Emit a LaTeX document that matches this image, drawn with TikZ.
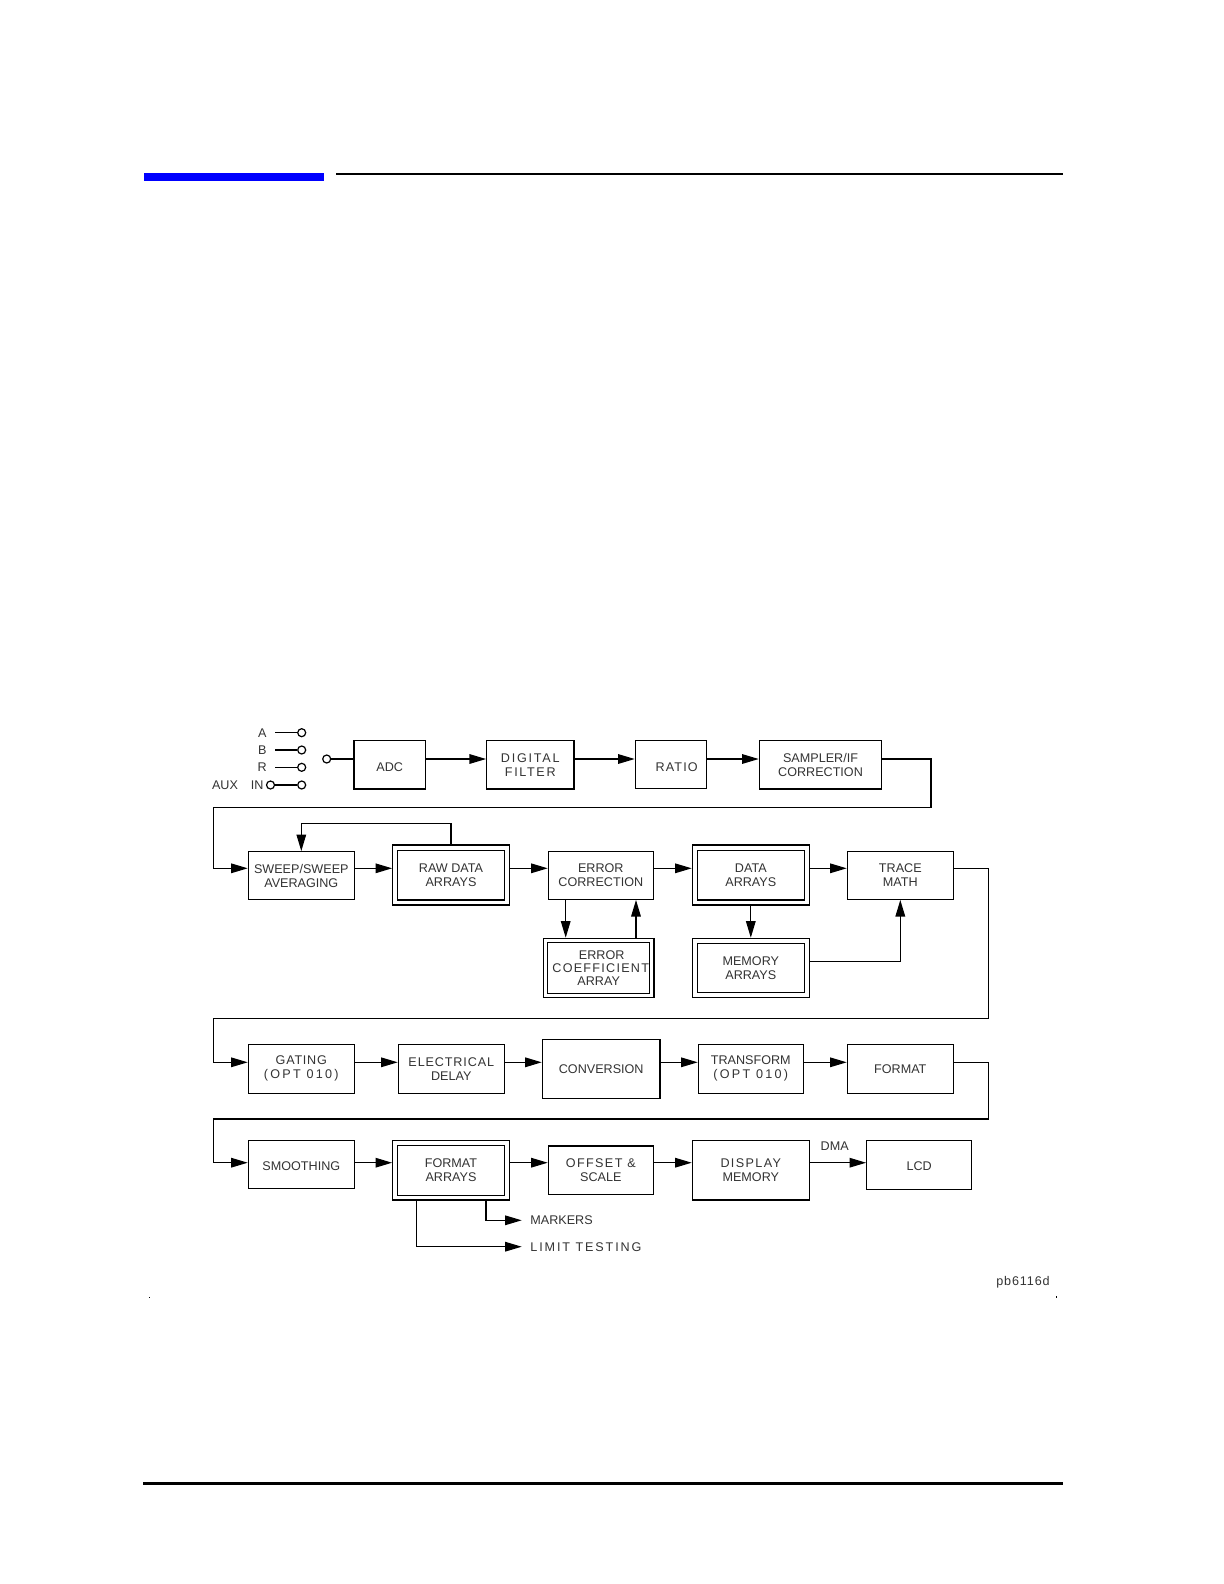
\documentclass[tikz,border=0pt]{standalone}
\usepackage{fontspec}
\setmainfont{Liberation Sans}
\usetikzlibrary{arrows.meta}
\newcommand\lsp[2]{{\addfontfeature{LetterSpace=#1}#2}}
\newcommand\lowr[2]{\raisebox{-#1}[\height][\depth]{#2}}
\newcommand\inbox[2]{\draw[ln] ([shift={(#2,#2)}]#1.north west) rectangle ([shift={(-#2,-#2)}]#1.south east);}
\begin{document}
\begin{tikzpicture}[x=0.5pt,y=-0.5pt,
 ln/.style={line width=0.6pt},
 blk/.style={draw,line width=0.6pt,inner sep=0pt,align=center,text=black!80,font=\fontsize{6.3}{7}\selectfont},
 sz/.style 2 args={minimum width=#1*0.5pt,minimum height=#2*0.5pt},
 lbl/.style={inner sep=0pt,text=black!80,font=\fontsize{6.3}{7}\selectfont},
 arr/.style={line width=0.6pt,-{Triangle[length=8.3pt,width=4.8pt]}},
 pin/.style={circle,draw,line width=0.6pt,minimum size=4pt,inner sep=0pt}]
\useasboundingbox (0,0) rectangle (1224,1584);
\fill[white] (0,0) rectangle (1224,1584);
% header and footer rules
\fill[blue] (144,173) rectangle (324,180.7);
\draw[line width=1.15pt] (336,174.3) -- (1062.6,174.3);
\draw[line width=1.35pt] (143,1483.7) -- (1063,1483.7);
\fill (148.7,1296.7) rectangle ++(1.3,1.3);
\fill (1056,1296.4) rectangle ++(1.3,1.3);
% row coordinates
\coordinate (r1) at (0,759);
\coordinate (r2) at (0,868.3);
\coordinate (r3) at (0,1062.3);
\coordinate (r4) at (0,1162.7);
% inputs
\node[lbl,anchor=east,inner xsep=4pt] (ta) at (275,732.7) {A};
\node[lbl,anchor=east,inner xsep=4pt] (tb) at (275,750) {B};
\node[lbl,anchor=east,inner xsep=4pt] (tr) at (275,767.3) {R};
\node[lbl,anchor=east] (taux) at (264,785) {AUX\hspace{6.5pt}IN};
\node[pin] (ca) at (301.7,732.7) {};
\node[pin] (cb) at (301.7,750) {};
\node[pin] (cr) at (301.7,767.3) {};
\node[pin] (cx) at (301.7,785) {};
\node[pin] (caux) at (270.5,785) {};
\node[pin] (cin) at (326.7,759) {};
\draw[ln] (ta) -- (ca);
\draw[ln] (tb) -- (cb);
\draw[ln] (tr) -- (cr);
\draw[ln] (caux) -- (cx);
% row 1
\node[blk,sz={71.3}{48.6}] (adc) at (389.7,764.75) {\lowr{1.3pt}{ADC}};
\node[blk,sz={87.3}{48.6}] (df) at (530.3,764.75) {\lsp{14}{DIGITAL}\\\lsp{13}{FILTER}};
\node[blk,sz={71.4}{48}] (ratio) at (671,764.5) {\lowr{1.4pt}{\hspace*{5.7pt}\lsp{9}{RATIO}}};
\node[blk,sz={122.4}{48.6}] (sampler) at (820.5,764.75) {SAMPLER/IF\\CORRECTION};
\draw[ln] (cin) -- (adc.west |- r1);
\draw[arr] (adc.east |- r1) -- (df.west |- r1);
\draw[arr] (df.east |- r1) -- (ratio.west |- r1);
\draw[arr] (ratio.east |- r1) -- (sampler.west |- r1);
% row 2
\node[blk,sz={106}{47.6}] (sweep) at (301.3,875.5) {SWEEP/SWEEP\\AVERAGING};
\node[blk,sz={116.6}{60}] (raw) at (451,875) {RAW DATA\\ARRAYS};
\inbox{raw}{5.7}
\node[blk,sz={105}{47.6}] (ec) at (600.8,875.5) {ERROR\\CORRECTION};
\node[blk,sz={117}{60}] (data) at (750.8,875) {DATA\\ARRAYS};
\inbox{data}{5.7}
\node[blk,sz={106}{47.6}] (trace) at (900.3,875.5) {TRACE\\MATH};
\node[blk,sz={110.7}{59.4},font=\fontsize{6.3}{6.65}\selectfont] (coeff) at (598.7,968) {\hspace*{3pt}ERROR\\\hspace*{2pt}\lsp{10}{COEFFICIENT}\\ARRAY};
\inbox{coeff}{5}
\node[blk,sz={117}{59}] (mem) at (750.8,967.8) {MEMORY\\ARRAYS};
\inbox{mem}{5.5}
\draw[arr] (sampler.east |- r1) -- (931,759) -- (931,807.3) -- (213.3,807.3) -- (213.3,868.3) -- (sweep.west |- r2);
\draw[arr] (raw.north) -- ++(0,-20.7) -| (sweep.north);
\draw[arr] (sweep.east |- r2) -- (raw.west |- r2);
\draw[arr] (raw.east |- r2) -- (ec.west |- r2);
\draw[arr] (ec.east |- r2) -- (data.west |- r2);
\draw[arr] (data.east |- r2) -- (trace.west |- r2);
\coordinate (xd) at (565.7,0);
\coordinate (xu) at (636,0);
\coordinate (ym) at (0,961.7);
\draw[arr] (ec.south -| xd) -- (coeff.north -| xd);
\draw[arr] (coeff.north -| xu) -- (ec.south -| xu);
\draw[arr] (data.south) -- (mem.north);
\draw[arr] (mem.east |- ym) -| (trace.south);
% row 3
\node[blk,sz={106}{49}] (gating) at (301.3,1068.8) {\lsp{6}{GATING}\\\lsp{18}{(OPT 010)}};
\node[blk,sz={106}{49}] (elec) at (451.3,1068.8) {\lsp{7}{ELECTRICAL}\\DELAY};
\node[blk,sz={117.7}{59}] (conv) at (601.2,1068.8) {CONVERSION};
\node[blk,sz={105}{49}] (transf) at (750.8,1068.8) {TRANSFORM\\\lsp{18}{(OPT 010)}};
\node[blk,sz={106}{49}] (format) at (900.3,1068.8) {FORMAT};
\draw[arr] (trace.east |- r2) -- (988.3,868.3) -- (988.3,1018.3) -- (213.3,1018.3) -- (213.3,1062.3) -- (gating.west |- r3);
\draw[arr] (gating.east |- r3) -- (elec.west |- r3);
\draw[arr] (elec.east |- r3) -- (conv.west |- r3);
\draw[arr] (conv.east |- r3) -- (transf.west |- r3);
\draw[arr] (transf.east |- r3) -- (format.west |- r3);
% row 4
\node[blk,sz={106}{47.6}] (smooth) at (301.3,1164.5) {\lowr{0.6pt}{SMOOTHING}};
\node[blk,sz={116.6}{59.3}] (fa) at (451,1170.4) {FORMAT\\ARRAYS};
\inbox{fa}{5.5}
\node[blk,sz={105}{48.3}] (offset) at (600.8,1170.2) {\lsp{11}{OFFSET \&}\\SCALE};
\node[blk,sz={117}{59.3}] (dm) at (750.8,1170.4) {\lsp{11}{DISPLAY}\\MEMORY};
\node[blk,sz={105}{48.6}] (lcd) at (919.2,1165) {\lowr{0.5pt}{LCD}};
\node[lbl] (dma) at (834.7,1146) {DMA};
\draw[arr] (format.east |- r3) -- (988.3,1062.3) -- (988.3,1119) -- (213.3,1119) -- (213.3,1162.7) -- (smooth.west |- r4);
\draw[arr] (smooth.east |- r4) -- (fa.west |- r4);
\draw[arr] (fa.east |- r4) -- (offset.west |- r4);
\draw[arr] (offset.east |- r4) -- (dm.west |- r4);
\draw[arr] (dm.east |- r4) -- (lcd.west |- r4);
\node[lbl,anchor=west,inner xsep=4.15pt] (mk) at (521.7,1220.3) {MARKERS};
\node[lbl,anchor=west,inner xsep=4.15pt] (lt) at (521.7,1246.7) {\lsp{15}{LIMIT TESTING}};
\coordinate (xm) at (486,0);
\coordinate (xl) at (416.7,0);
\draw[arr] (fa.south -| xm) |- (mk.west);
\draw[arr] (fa.south -| xl) |- (lt.west);
\node[lbl] (pb) at (1023,1282.7) {\lsp{7}{pb6116d}};
\end{tikzpicture}
\end{document}
